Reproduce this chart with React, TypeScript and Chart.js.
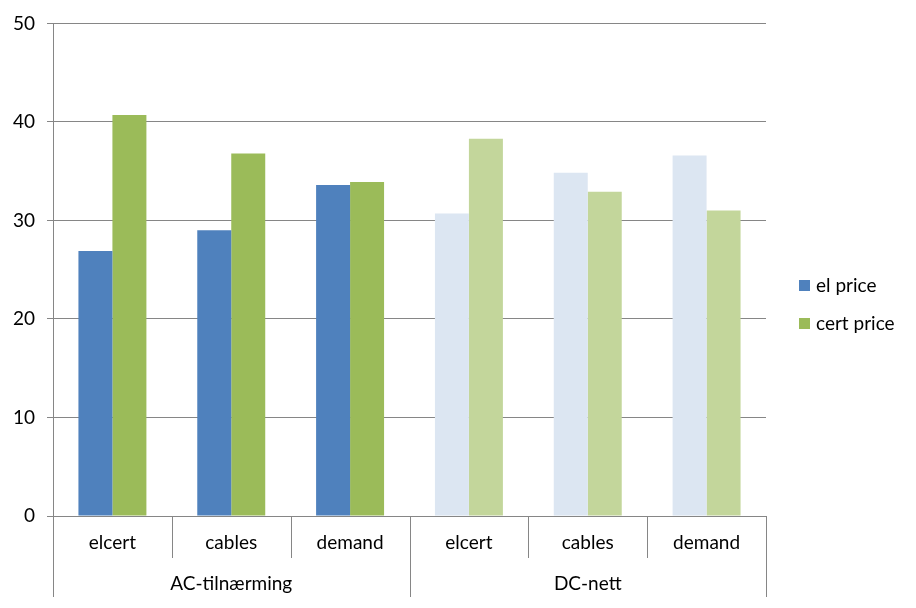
import React, { useEffect, useRef } from "react";
import { Chart, registerables } from "chart.js";

Chart.register(...registerables);

const categories = ["elcert", "cables", "demand", "elcert", "cables", "demand"];
const groups = ["AC-tilnærming", "DC-nett"];
const elPrice = [26.9, 29.0, 33.6, 30.7, 34.85, 36.6];
const certPrice = [40.7, 36.8, 33.9, 38.3, 32.9, 31.0];
const seriesNames = ["el price", "cert price"];
const elColors = ["#4F81BD", "#4F81BD", "#4F81BD", "#DCE6F2", "#DCE6F2", "#DCE6F2"];
const certColors = ["#9BBB59", "#9BBB59", "#9BBB59", "#C3D69B", "#C3D69B", "#C3D69B"];
const legendColors = ["#4F81BD", "#9BBB59"];

const FONT = "Lato, 'Open Sans', sans-serif";
const LINE = "#868686";

const multiAxisPlugin = {
  id: "multiAxis",
  afterDraw(chart: any) {
    const { ctx, chartArea } = chart;
    const n = categories.length;
    const w = (chartArea.right - chartArea.left) / n;
    const base = chartArea.bottom;
    ctx.save();
    ctx.strokeStyle = LINE;
    ctx.lineWidth = 1;
    for (let i = 0; i <= n; i++) {
      const x = Math.round(chartArea.left + i * w) + 0.5;
      const isGroup = i % 3 === 0;
      ctx.beginPath();
      ctx.moveTo(x, base);
      ctx.lineTo(x, base + (isGroup ? 81 : 42));
      ctx.stroke();
    }
    ctx.fillStyle = "#000";
    ctx.font = `19px ${FONT}`;
    ctx.textAlign = "center";
    ctx.textBaseline = "middle";
    for (let i = 0; i < n; i++) {
      ctx.fillText(categories[i], chartArea.left + (i + 0.5) * w, base + 27);
    }
    for (let g = 0; g < groups.length; g++) {
      ctx.fillText(groups[g], chartArea.left + (g * 3 + 1.5) * w, base + 68);
    }
    // legend
    ctx.textAlign = "left";
    for (let s = 0; s < seriesNames.length; s++) {
      const y = 285 + s * 38;
      ctx.fillStyle = legendColors[s];
      ctx.fillRect(799, y - 5, 11, 11);
      ctx.fillStyle = "#000";
      ctx.fillText(seriesNames[s], 816, y + 1);
    }
    ctx.restore();
  },
};

export default function App() {
  const ref = useRef<HTMLCanvasElement>(null);
  useEffect(() => {
    document.body.style.margin = "0";
    const chart = new Chart(ref.current!, {
      type: "bar",
      data: {
        labels: categories,
        datasets: [
          { label: seriesNames[0], data: elPrice, backgroundColor: elColors, barPercentage: 1, categoryPercentage: 0.572 },
          { label: seriesNames[1], data: certPrice, backgroundColor: certColors, barPercentage: 1, categoryPercentage: 0.572 },
        ],
      },
      options: {
        responsive: false,
        animation: false,
        layout: { padding: { left: 0, top: 23, right: 150, bottom: 92 } },
        plugins: { legend: { display: false }, tooltip: { enabled: false } },
        scales: {
          x: { display: false },
          y: {
            min: 0,
            max: 50,
            afterFit: (s: any) => { s.width = 53; },
            ticks: { stepSize: 10, color: "#000", font: { family: FONT, size: 19 }, padding: 12 },
            grid: { color: LINE, tickLength: 6, lineWidth: 1 },
            border: { color: LINE },
          },
        },
      },
      plugins: [multiAxisPlugin],
    });
    return () => chart.destroy();
  }, []);
  return <canvas ref={ref} width={916} height={608} style={{ display: "block" }} />;
}
